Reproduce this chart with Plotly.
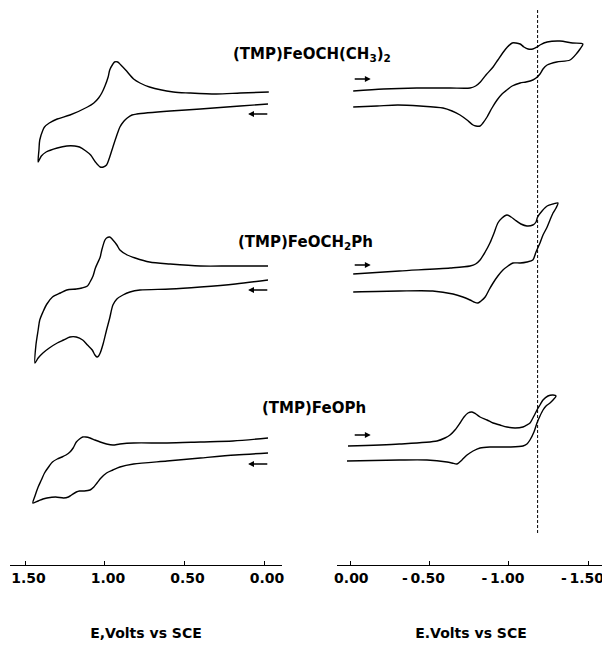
import plotly.graph_objects as go

# ---------------- data (E in volts vs SCE, current in arbitrary offset units) ----------------
# Left panel (anodic region, 1.5 .. 0 V)
L1_E = [-0.03, 0.15, 0.30, 0.47, 0.57, 0.72, 0.78, 0.82, 0.87, 0.90, 0.92, 0.94, 0.95, 0.97, 0.98, 1.00, 1.02, 1.04, 1.07, 1.11, 1.22, 1.30, 1.35, 1.38, 1.39, 1.41, 1.415, 1.42,
        1.40, 1.37, 1.30, 1.24, 1.19, 1.16, 1.12, 1.09, 1.06, 1.03, 1.01, 0.99, 0.97, 0.95, 0.925, 0.906, 0.88, 0.86, 0.83, 0.80, 0.59, 0.40, 0.15, -0.025]
L1_I = [473, 472, 471, 472, 473, 478, 482, 486, 495, 500, 503, 503, 501, 495, 488, 479, 472, 467, 462, 458, 450, 446, 442, 438, 435, 425, 415, 403,
        409, 413, 417, 419, 419, 418, 414, 410, 403, 398, 398, 400, 408, 418, 430, 438, 444, 447, 450, 451, 454, 456, 459, 461]

L2_E = [-0.025, 0.21, 0.40, 0.59, 0.72, 0.81, 0.86, 0.906, 0.925, 0.95, 0.97, 0.99, 1.00, 1.02, 1.03, 1.06, 1.075, 1.094, 1.11, 1.145, 1.18, 1.24, 1.28, 1.33, 1.365, 1.39, 1.41, 1.42, 1.434, 1.44,
        1.42, 1.39, 1.35, 1.30, 1.26, 1.22, 1.18, 1.14, 1.11, 1.08, 1.063, 1.05, 1.04, 1.03, 1.01, 0.99, 0.97, 0.95, 0.925, 0.887, 0.843, 0.78, 0.59, 0.40, 0.18, -0.025]
L2_I = [299, 299, 299, 301, 303, 307, 310, 315, 320, 325, 328, 327, 325, 315, 308, 297, 289, 283, 279, 277, 276, 275, 272, 268, 261, 253, 245, 235, 220, 202,
        207, 212, 217, 222, 225, 228, 228, 225, 220, 215, 210, 208, 209, 212, 222, 235, 247, 260, 266, 270, 273, 275, 276, 278, 281, 285]

L3_E = [-0.025, 0.195, 0.40, 0.61, 0.82, 0.906, 0.95, 0.99, 1.03, 1.063, 1.094, 1.12, 1.14, 1.16, 1.18, 1.20, 1.22, 1.245, 1.27, 1.30, 1.33, 1.35, 1.38, 1.40, 1.42, 1.44, 1.453,
        1.42, 1.39, 1.365, 1.31, 1.26, 1.23, 1.21, 1.18, 1.16, 1.13, 1.094, 1.07, 1.05, 1.025, 0.99, 0.95, 0.906, 0.82, 0.61, 0.40, 0.18, -0.025]
L3_I = [127, 124, 123, 122, 122, 121, 120, 121, 123, 125, 127, 128, 128, 126, 123, 117, 113, 110, 108, 106, 103, 99, 92, 85, 78, 69, 62,
        64, 66, 67, 68, 67, 68, 70, 73, 74, 74, 75, 78, 82, 87, 92, 95, 98, 101, 104, 107, 110, 112]

# Right panel (cathodic region, 0 .. -1.5 V)
R1_E = [-0.02, -0.21, -0.42, -0.63, -0.755, -0.79, -0.82, -0.855, -0.90, -0.93, -0.96, -0.99, -1.02, -1.044, -1.07, -1.094, -1.12, -1.15, -1.176, -1.195, -1.24, -1.32, -1.40, -1.465,
        -1.447, -1.428, -1.384, -1.30, -1.24, -1.214, -1.195, -1.17, -1.15, -1.107, -1.07, -1.02, -0.987, -0.956, -0.925, -0.893, -0.862, -0.836, -0.818, -0.792, -0.774, -0.736, -0.692, -0.642, -0.585, -0.44, -0.30, -0.17, -0.02]
R1_I = [474, 476, 477, 477, 477, 479, 483, 490, 498, 505, 512, 518, 522, 522, 521, 518, 516, 516, 518, 520, 523, 524, 522, 521,
        516, 512, 505, 503, 500, 496, 491, 487, 485, 483, 482, 479, 475, 471, 465, 457, 448, 442, 439, 439, 440, 445, 450, 454, 457, 459, 460, 459, 458]

R2_E = [-0.02, -0.31, -0.63, -0.755, -0.79, -0.818, -0.85, -0.88, -0.906, -0.93, -0.956, -0.987, -1.013, -1.038, -1.075, -1.113, -1.15, -1.17, -1.18, -1.208, -1.24, -1.277, -1.308,
        -1.296, -1.277, -1.258, -1.24, -1.214, -1.195, -1.17, -1.15, -1.113, -1.07, -1.025, -0.994, -0.962, -0.93, -0.90, -0.874, -0.85, -0.824, -0.805, -0.78, -0.755, -0.71, -0.648, -0.52, -0.31, -0.02]
R2_I = [291, 294, 297, 299, 301, 305, 313, 322, 332, 342, 347, 350, 348, 345, 341, 339, 340, 343, 348, 354, 359, 361, 362,
        357, 352, 345, 338, 330, 322, 313, 305, 303, 302, 302, 299, 295, 289, 282, 275, 268, 264, 262, 263, 265, 268, 271, 274, 274, 273]

R3_E = [0.013, -0.31, -0.547, -0.597, -0.629, -0.66, -0.692, -0.717, -0.742, -0.767, -0.792, -0.818, -0.862, -0.90, -0.943, -0.987, -1.038, -1.088, -1.113, -1.132, -1.157, -1.176, -1.195, -1.214, -1.245, -1.277, -1.296,
        -1.277, -1.258, -1.233, -1.214, -1.195, -1.176, -1.157, -1.132, -1.113, -1.088, -1.006, -0.943, -0.88, -0.818, -0.774, -0.736, -0.704, -0.673, -0.642, -0.61, -0.484, -0.31, 0.019]
R3_I = [119, 121, 124, 127, 130, 135, 142, 148, 152, 153, 151, 148, 145, 142, 140, 138, 137, 138, 140, 142, 149, 155, 160, 165, 169, 170, 169,
        165, 162, 159, 155, 149, 142, 133, 125, 121, 119, 118, 118, 118, 117, 114, 110, 105, 101, 102, 103, 105, 105, 104]

# labels
compound_names = ["(TMP)FeOCH(CH<sub>3</sub>)<sub>2</sub>", "(TMP)FeOCH<sub>2</sub>Ph", "(TMP)FeOPh"]
compound_label_I = [511, 323, 157]
compound_label_x = [0.505, 0.495, 0.508]   # paper fraction

left_ticks = [1.5, 1.0, 0.5, 0.0]
left_ticktext = ["1.50", "1.00", "0.50", "0.00"]
right_ticks = [0.0, -0.5, -1.0, -1.5]
right_ticktext = ["\u00a0\u00a0\u00a00.00", "-\u20090.50", "-\u20091.00", "-\u20091.50"]

# scan-direction arrows: (E_tail, E_tip) at current I
left_arrows_I = [451, 275, 101]
left_arrow_E = (-0.03, 0.10)
right_arrows_I = [486, 300, 130]
right_arrow_E = (-0.02, -0.13)

ref_E = -1.18              # dotted reference potential
ref_I_span = (32, 557)

FONT = "DejaVu Sans"
W, H = 602, 637            # page body has an 8 px default margin

fig = go.Figure()
line = dict(color="black", width=1.4, shape="spline", smoothing=0.8)
for E, I in [(L1_E, L1_I), (L2_E, L2_I), (L3_E, L3_I)]:
    fig.add_trace(go.Scatter(x=E, y=I, mode="lines", line=line, xaxis="x", yaxis="y",
                             showlegend=False, hoverinfo="skip"))
for E, I in [(R1_E, R1_I), (R2_E, R2_I), (R3_E, R3_I)]:
    fig.add_trace(go.Scatter(x=E, y=I, mode="lines", line=line, xaxis="x2", yaxis="y",
                             showlegend=False, hoverinfo="skip"))

annotations = []
for name, yi, xp in zip(compound_names, compound_label_I, compound_label_x):
    annotations.append(dict(text="<b>" + name + "</b>", x=xp, y=yi, xref="paper", yref="y",
                            showarrow=False, font=dict(family=FONT, size=15, color="black"),
                            xanchor="center", yanchor="middle"))
for yi in left_arrows_I:
    annotations.append(dict(x=left_arrow_E[1], y=yi, ax=left_arrow_E[0], ay=yi,
                            xref="x", yref="y", axref="x", ayref="y", text="",
                            showarrow=True, arrowhead=2, arrowsize=0.9, arrowwidth=1.3, arrowcolor="black"))
for yi in right_arrows_I:
    annotations.append(dict(x=right_arrow_E[1], y=yi, ax=right_arrow_E[0], ay=yi,
                            xref="x2", yref="y", axref="x2", ayref="y", text="",
                            showarrow=True, arrowhead=2, arrowsize=0.9, arrowwidth=1.3, arrowcolor="black"))

fig.add_shape(type="line", xref="x2", yref="y", x0=ref_E, x1=ref_E,
              y0=ref_I_span[0], y1=ref_I_span[1],
              line=dict(color="black", width=1, dash="3px,2px"))

axis_common = dict(showgrid=False, zeroline=False, showline=True, linecolor="black", linewidth=1.4,
                   ticks="inside", ticklen=4, tickwidth=1, tickcolor="black",
                   tickfont=dict(family=FONT, size=14, color="black"),
                   ticklabeloverflow="allow", automargin=False,
                   anchor="y", title_font=dict(family=FONT, size=14, color="black"),
                   title_standoff=43)

# note: both axes are reversed, so ticklabelshift sign is flipped
fig.update_layout(
    width=W, height=H,
    margin=dict(l=0, r=0, t=0, b=0),
    paper_bgcolor="white", plot_bgcolor="white",
    xaxis=dict(domain=[2/W, 274/W], range=[1.597, -0.113], tickvals=left_ticks,
               ticktext=["<b>%s</b>" % t for t in left_ticktext], ticklabelshift=-3,
               title_text="<b>E,Volts vs SCE</b>", **axis_common),
    xaxis2=dict(domain=[329/W, 597/W], range=[0.082, -1.604], tickvals=right_ticks,
                ticktext=["<b>%s</b>" % t for t in right_ticktext], ticklabelshift=6,
                title_text="<b>E.Volts vs SCE</b>", **axis_common),
    yaxis=dict(domain=[(H - 557)/H, 1], range=[0, 557], visible=False, automargin=False),
    annotations=annotations,
)

fig.write_html("out.html")
